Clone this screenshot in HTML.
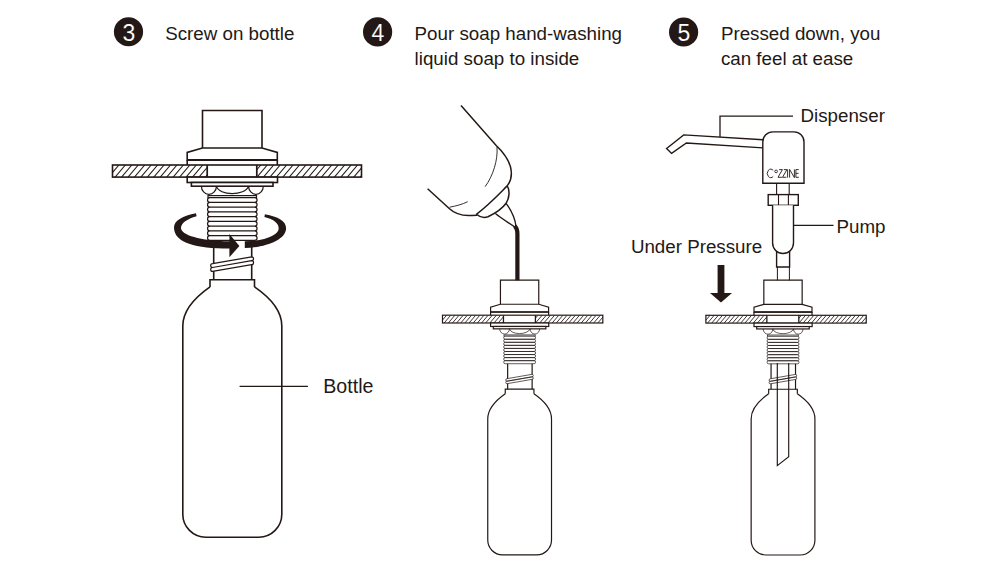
<!DOCTYPE html><html><head><meta charset="utf-8"><style>html,body{margin:0;padding:0;background:#fff;width:1000px;height:569px;overflow:hidden;position:relative}</style></head><body><svg width="1000" height="569" viewBox="0 0 1000 569" style="position:absolute;left:0;top:0">
<rect width="1000" height="569" fill="#fff"/>
<clipPath id="c3"><path d="M112.5,165H207.2V177.1H112.5Z M256.8,165H361.5V177.1H256.8Z"/></clipPath>
<path clip-path="url(#c3)" d="M102.22,177.10l10.28,-12.10M108.67,177.10l10.28,-12.10M115.12,177.10l10.28,-12.10M121.57,177.10l10.28,-12.10M128.02,177.10l10.28,-12.10M134.47,177.10l10.28,-12.10M140.91,177.10l10.28,-12.10M147.36,177.10l10.28,-12.10M153.81,177.10l10.28,-12.10M160.26,177.10l10.28,-12.10M166.71,177.10l10.28,-12.10M173.16,177.10l10.28,-12.10M179.61,177.10l10.28,-12.10M186.06,177.10l10.28,-12.10M192.51,177.10l10.28,-12.10M198.96,177.10l10.28,-12.10M205.41,177.10l10.28,-12.10M211.86,177.10l10.28,-12.10M218.31,177.10l10.28,-12.10M224.76,177.10l10.28,-12.10M231.21,177.10l10.28,-12.10M237.66,177.10l10.28,-12.10M244.11,177.10l10.28,-12.10M250.56,177.10l10.28,-12.10M257.01,177.10l10.28,-12.10M263.46,177.10l10.28,-12.10M269.91,177.10l10.28,-12.10M276.36,177.10l10.28,-12.10M282.81,177.10l10.28,-12.10M289.26,177.10l10.28,-12.10M295.71,177.10l10.28,-12.10M302.16,177.10l10.28,-12.10M308.61,177.10l10.28,-12.10M315.06,177.10l10.28,-12.10M321.51,177.10l10.28,-12.10M327.96,177.10l10.28,-12.10M334.41,177.10l10.28,-12.10M340.86,177.10l10.28,-12.10M347.31,177.10l10.28,-12.10M353.76,177.10l10.28,-12.10M360.21,177.10l10.28,-12.10" stroke="#231815" stroke-width="1.05" fill="none"/>
<rect x="112.5" y="165" width="249" height="12.1" fill="none" stroke="#231815" stroke-width="1.6"/>
<path d="M207.2,165V177.1M256.8,165V177.1" stroke="#231815" stroke-width="1.71" fill="none"/>
<path d="M202.5,148V110.5H262V148" fill="none" stroke="#231815" stroke-width="1.6"/>
<path d="M202.5,148L187.2,152.4V160H277.3V152.4L262,148Z" fill="#fff" stroke="#231815" stroke-width="1.6" stroke-linejoin="miter"/>
<path d="M187.2,160V165M277.3,160V165" fill="none" stroke="#231815" stroke-width="1.6"/>
<path d="M187.2,160H277.3" stroke="#231815" stroke-width="2.03"/>
<rect x="187.2" y="177.1" width="90.3" height="5.4" fill="#fff" stroke="#231815" stroke-width="1.6"/>
<rect x="191.4" y="182.5" width="81.6" height="3.7" fill="#fff" stroke="#231815" stroke-width="1.6"/>
<path d="M201.4,186.2A7.5,8.1 0 0 0 216.4,186.2 M216.4,186.2C219,196 245,196 248.6,186.2 M248.6,186.2A7.35,8.1 0 0 0 263.3,186.2" fill="none" stroke="#231815" stroke-width="1.2"/>
<rect x="208" y="195.6" width="48.5" height="2" fill="#fff" stroke="#231815" stroke-width="1.2"/>
<path d="M209.9,197.60H254.7A2.37,2.37 0 0 1 254.7,202.35H209.9A2.37,2.37 0 0 1 209.9,197.60ZM209.9,202.35H254.7A2.37,2.37 0 0 1 254.7,207.10H209.9A2.37,2.37 0 0 1 209.9,202.35ZM209.9,207.10H254.7A2.37,2.37 0 0 1 254.7,211.85H209.9A2.37,2.37 0 0 1 209.9,207.10ZM209.9,211.85H254.7A2.37,2.37 0 0 1 254.7,216.60H209.9A2.37,2.37 0 0 1 209.9,211.85ZM209.9,216.60H254.7A2.37,2.37 0 0 1 254.7,221.35H209.9A2.37,2.37 0 0 1 209.9,216.60ZM209.9,221.35H254.7A2.37,2.37 0 0 1 254.7,226.10H209.9A2.37,2.37 0 0 1 209.9,221.35ZM209.9,226.10H254.7A2.37,2.37 0 0 1 254.7,230.85H209.9A2.37,2.37 0 0 1 209.9,226.10ZM209.9,230.85H254.7A2.37,2.37 0 0 1 254.7,235.60H209.9A2.37,2.37 0 0 1 209.9,230.85ZM209.9,235.60H254.7A2.37,2.37 0 0 1 254.7,240.35H209.9A2.37,2.37 0 0 1 209.9,235.60Z" fill="#fff" stroke="#231815" stroke-width="1.2"/>
<path d="M213.7,240.3V279.8M251.7,240.3V279.8" fill="none" stroke="#231815" stroke-width="1.6"/>
<path d="M212.60,263.60L251.60,256.80A1.95,1.95 0 0 1 251.60,260.70L212.60,267.50A1.95,1.95 0 0 1 212.60,263.60ZM212.60,267.50L251.60,260.70A1.95,1.95 0 0 1 251.60,264.60L212.60,271.40A1.95,1.95 0 0 1 212.60,267.50Z" fill="#fff" stroke="#231815" stroke-width="1.2"/>
<path d="M210,286.9V279.8H254.5V286.9" fill="none" stroke="#231815" stroke-width="1.6"/>
<path d="M210,286.9C197,296 182.8,309 182.8,326V514A23,23 0 0 0 205.8,537.2H258.8A23,23 0 0 0 281.8,514V326C281.8,309 267.8,296 254.5,286.9" fill="none" stroke="#231815" stroke-width="1.6"/>
<path d="M196,213.2C183,216 174,220 174,227.5C174,243 196,248.5 229.4,248.5V257.2L239.4,245.9L229.4,234V241.3C200,240.8 181,235 181,228C181,223 187,219 196.6,216.2ZM244.8,248C265,247.5 286.1,240 286.1,228.2C286.1,221 278,216.5 264.9,214.2L264.4,217.1C274,219.5 278.7,223.5 278.7,228.5C278.7,235 265,241 244.8,241.3Z" fill="#231815"/>
<path d="M239.6,386.3H307.9" stroke="#231815" stroke-width="1.3"/>
<g transform="translate(519.6 280.1) scale(0.644) translate(-232.25 -110.5)"><clipPath id="c4"><path d="M112.5,165H207.2V177.1H112.5Z M256.8,165H361.5V177.1H256.8Z"/></clipPath>
<path clip-path="url(#c4)" d="M102.22,177.10l10.28,-12.10M108.67,177.10l10.28,-12.10M115.12,177.10l10.28,-12.10M121.57,177.10l10.28,-12.10M128.02,177.10l10.28,-12.10M134.47,177.10l10.28,-12.10M140.91,177.10l10.28,-12.10M147.36,177.10l10.28,-12.10M153.81,177.10l10.28,-12.10M160.26,177.10l10.28,-12.10M166.71,177.10l10.28,-12.10M173.16,177.10l10.28,-12.10M179.61,177.10l10.28,-12.10M186.06,177.10l10.28,-12.10M192.51,177.10l10.28,-12.10M198.96,177.10l10.28,-12.10M205.41,177.10l10.28,-12.10M211.86,177.10l10.28,-12.10M218.31,177.10l10.28,-12.10M224.76,177.10l10.28,-12.10M231.21,177.10l10.28,-12.10M237.66,177.10l10.28,-12.10M244.11,177.10l10.28,-12.10M250.56,177.10l10.28,-12.10M257.01,177.10l10.28,-12.10M263.46,177.10l10.28,-12.10M269.91,177.10l10.28,-12.10M276.36,177.10l10.28,-12.10M282.81,177.10l10.28,-12.10M289.26,177.10l10.28,-12.10M295.71,177.10l10.28,-12.10M302.16,177.10l10.28,-12.10M308.61,177.10l10.28,-12.10M315.06,177.10l10.28,-12.10M321.51,177.10l10.28,-12.10M327.96,177.10l10.28,-12.10M334.41,177.10l10.28,-12.10M340.86,177.10l10.28,-12.10M347.31,177.10l10.28,-12.10M353.76,177.10l10.28,-12.10M360.21,177.10l10.28,-12.10" stroke="#231815" stroke-width="1.35" fill="none"/>
<rect x="112.5" y="165" width="249" height="12.1" fill="none" stroke="#231815" stroke-width="1.85"/>
<path d="M207.2,165V177.1M256.8,165V177.1" stroke="#231815" stroke-width="1.98" fill="none"/>
<path d="M202.5,148V110.5H262V148" fill="none" stroke="#231815" stroke-width="1.85"/>
<path d="M202.5,148L187.2,152.4V160H277.3V152.4L262,148Z" fill="#fff" stroke="#231815" stroke-width="1.85" stroke-linejoin="miter"/>
<path d="M187.2,160V165M277.3,160V165" fill="none" stroke="#231815" stroke-width="1.85"/>
<path d="M187.2,160H277.3" stroke="#231815" stroke-width="2.35"/>
<rect x="187.2" y="177.1" width="90.3" height="5.4" fill="#fff" stroke="#231815" stroke-width="1.85"/>
<rect x="191.4" y="182.5" width="81.6" height="3.7" fill="#fff" stroke="#231815" stroke-width="1.85"/>
<path d="M201.4,186.2A7.5,8.1 0 0 0 216.4,186.2 M216.4,186.2C219,196 245,196 248.6,186.2 M248.6,186.2A7.35,8.1 0 0 0 263.3,186.2" fill="none" stroke="#231815" stroke-width="1.1"/>
<rect x="208" y="195.6" width="48.5" height="2" fill="#fff" stroke="#231815" stroke-width="1.1"/>
<path d="M209.9,197.60H254.7A2.37,2.37 0 0 1 254.7,202.35H209.9A2.37,2.37 0 0 1 209.9,197.60ZM209.9,202.35H254.7A2.37,2.37 0 0 1 254.7,207.10H209.9A2.37,2.37 0 0 1 209.9,202.35ZM209.9,207.10H254.7A2.37,2.37 0 0 1 254.7,211.85H209.9A2.37,2.37 0 0 1 209.9,207.10ZM209.9,211.85H254.7A2.37,2.37 0 0 1 254.7,216.60H209.9A2.37,2.37 0 0 1 209.9,211.85ZM209.9,216.60H254.7A2.37,2.37 0 0 1 254.7,221.35H209.9A2.37,2.37 0 0 1 209.9,216.60ZM209.9,221.35H254.7A2.37,2.37 0 0 1 254.7,226.10H209.9A2.37,2.37 0 0 1 209.9,221.35ZM209.9,226.10H254.7A2.37,2.37 0 0 1 254.7,230.85H209.9A2.37,2.37 0 0 1 209.9,226.10ZM209.9,230.85H254.7A2.37,2.37 0 0 1 254.7,235.60H209.9A2.37,2.37 0 0 1 209.9,230.85ZM209.9,235.60H254.7A2.37,2.37 0 0 1 254.7,240.35H209.9A2.37,2.37 0 0 1 209.9,235.60Z" fill="#fff" stroke="#231815" stroke-width="1.1"/>
<path d="M213.7,240.3V279.8M251.7,240.3V279.8" fill="none" stroke="#231815" stroke-width="1.85"/>
<path d="M212.60,263.60L251.60,256.80A1.95,1.95 0 0 1 251.60,260.70L212.60,267.50A1.95,1.95 0 0 1 212.60,263.60ZM212.60,267.50L251.60,260.70A1.95,1.95 0 0 1 251.60,264.60L212.60,271.40A1.95,1.95 0 0 1 212.60,267.50Z" fill="#fff" stroke="#231815" stroke-width="1.1"/>
<path d="M210,286.9V279.8H254.5V286.9" fill="none" stroke="#231815" stroke-width="1.85"/>
<path d="M210,286.9C197,296 182.8,309 182.8,326V514A23,23 0 0 0 205.8,537.2H258.8A23,23 0 0 0 281.8,514V326C281.8,309 267.8,296 254.5,286.9" fill="none" stroke="#231815" stroke-width="1.85"/></g>
<path d="M461,105.5L496.2,145.5C502,151 508,158 510.5,167C512.5,175 511,181 507.2,185.9" fill="none" stroke="#231815" stroke-width="1.5"/>
<path d="M427.6,188.7L449.5,208.8C454,213 460,215.5 468.5,215.6C472,215.6 475,215.3 477.2,215.1" fill="none" stroke="#231815" stroke-width="1.5"/>
<path d="M507.2,185.9C500,193 490,204 476.4,214.3" fill="none" stroke="#231815" stroke-width="1.5"/>
<path d="M507.2,185.9C510,190 509.5,198 506.1,203.3C502,209 496,213 488,216.8C484,218 480,217.5 476.4,214.3" fill="none" stroke="#231815" stroke-width="1.5"/>
<path d="M506.1,203.3C511,210 515,218 516,226.4M495.4,213.6C502,219 509,223 514.6,227" fill="none" stroke="#231815" stroke-width="1.3"/>
<path d="M497,147.1C498,160 493,176 485.1,186.7M449.5,207.2C456,206 462,204.5 467.7,201.7" fill="none" stroke="#231815" stroke-width="0.9"/>
<path d="M514.5,226C517.2,228 517.4,230 517.4,234V280.3" fill="none" stroke="#231815" stroke-width="4.2"/>
<g transform="translate(783 280.2) scale(0.644) translate(-232.25 -110.5)"><clipPath id="c5"><path d="M112.5,165H207.2V177.1H112.5Z M256.8,165H361.5V177.1H256.8Z"/></clipPath>
<path clip-path="url(#c5)" d="M102.22,177.10l10.28,-12.10M108.67,177.10l10.28,-12.10M115.12,177.10l10.28,-12.10M121.57,177.10l10.28,-12.10M128.02,177.10l10.28,-12.10M134.47,177.10l10.28,-12.10M140.91,177.10l10.28,-12.10M147.36,177.10l10.28,-12.10M153.81,177.10l10.28,-12.10M160.26,177.10l10.28,-12.10M166.71,177.10l10.28,-12.10M173.16,177.10l10.28,-12.10M179.61,177.10l10.28,-12.10M186.06,177.10l10.28,-12.10M192.51,177.10l10.28,-12.10M198.96,177.10l10.28,-12.10M205.41,177.10l10.28,-12.10M211.86,177.10l10.28,-12.10M218.31,177.10l10.28,-12.10M224.76,177.10l10.28,-12.10M231.21,177.10l10.28,-12.10M237.66,177.10l10.28,-12.10M244.11,177.10l10.28,-12.10M250.56,177.10l10.28,-12.10M257.01,177.10l10.28,-12.10M263.46,177.10l10.28,-12.10M269.91,177.10l10.28,-12.10M276.36,177.10l10.28,-12.10M282.81,177.10l10.28,-12.10M289.26,177.10l10.28,-12.10M295.71,177.10l10.28,-12.10M302.16,177.10l10.28,-12.10M308.61,177.10l10.28,-12.10M315.06,177.10l10.28,-12.10M321.51,177.10l10.28,-12.10M327.96,177.10l10.28,-12.10M334.41,177.10l10.28,-12.10M340.86,177.10l10.28,-12.10M347.31,177.10l10.28,-12.10M353.76,177.10l10.28,-12.10M360.21,177.10l10.28,-12.10" stroke="#231815" stroke-width="1.35" fill="none"/>
<rect x="112.5" y="165" width="249" height="12.1" fill="none" stroke="#231815" stroke-width="1.85"/>
<path d="M207.2,165V177.1M256.8,165V177.1" stroke="#231815" stroke-width="1.98" fill="none"/>
<path d="M202.5,148V110.5H262V148" fill="none" stroke="#231815" stroke-width="1.85"/>
<path d="M202.5,148L187.2,152.4V160H277.3V152.4L262,148Z" fill="#fff" stroke="#231815" stroke-width="1.85" stroke-linejoin="miter"/>
<path d="M187.2,160V165M277.3,160V165" fill="none" stroke="#231815" stroke-width="1.85"/>
<path d="M187.2,160H277.3" stroke="#231815" stroke-width="2.35"/>
<rect x="187.2" y="177.1" width="90.3" height="5.4" fill="#fff" stroke="#231815" stroke-width="1.85"/>
<rect x="191.4" y="182.5" width="81.6" height="3.7" fill="#fff" stroke="#231815" stroke-width="1.85"/>
<path d="M201.4,186.2A7.5,8.1 0 0 0 216.4,186.2 M216.4,186.2C219,196 245,196 248.6,186.2 M248.6,186.2A7.35,8.1 0 0 0 263.3,186.2" fill="none" stroke="#231815" stroke-width="1.1"/>
<rect x="208" y="195.6" width="48.5" height="2" fill="#fff" stroke="#231815" stroke-width="1.1"/>
<path d="M209.9,197.60H254.7A2.37,2.37 0 0 1 254.7,202.35H209.9A2.37,2.37 0 0 1 209.9,197.60ZM209.9,202.35H254.7A2.37,2.37 0 0 1 254.7,207.10H209.9A2.37,2.37 0 0 1 209.9,202.35ZM209.9,207.10H254.7A2.37,2.37 0 0 1 254.7,211.85H209.9A2.37,2.37 0 0 1 209.9,207.10ZM209.9,211.85H254.7A2.37,2.37 0 0 1 254.7,216.60H209.9A2.37,2.37 0 0 1 209.9,211.85ZM209.9,216.60H254.7A2.37,2.37 0 0 1 254.7,221.35H209.9A2.37,2.37 0 0 1 209.9,216.60ZM209.9,221.35H254.7A2.37,2.37 0 0 1 254.7,226.10H209.9A2.37,2.37 0 0 1 209.9,221.35ZM209.9,226.10H254.7A2.37,2.37 0 0 1 254.7,230.85H209.9A2.37,2.37 0 0 1 209.9,226.10ZM209.9,230.85H254.7A2.37,2.37 0 0 1 254.7,235.60H209.9A2.37,2.37 0 0 1 209.9,230.85ZM209.9,235.60H254.7A2.37,2.37 0 0 1 254.7,240.35H209.9A2.37,2.37 0 0 1 209.9,235.60Z" fill="#fff" stroke="#231815" stroke-width="1.1"/>
<path d="M213.7,240.3V279.8M251.7,240.3V279.8" fill="none" stroke="#231815" stroke-width="1.85"/>
<path d="M212.60,263.60L251.60,256.80A1.95,1.95 0 0 1 251.60,260.70L212.60,267.50A1.95,1.95 0 0 1 212.60,263.60ZM212.60,267.50L251.60,260.70A1.95,1.95 0 0 1 251.60,264.60L212.60,271.40A1.95,1.95 0 0 1 212.60,267.50Z" fill="#fff" stroke="#231815" stroke-width="1.1"/>
<path d="M210,286.9V279.8H254.5V286.9" fill="none" stroke="#231815" stroke-width="1.85"/>
<path d="M210,286.9C197,296 182.8,309 182.8,326V514A23,23 0 0 0 205.8,537.2H258.8A23,23 0 0 0 281.8,514V326C281.8,309 267.8,296 254.5,286.9" fill="none" stroke="#231815" stroke-width="1.85"/></g>
<path d="M777.3,363V465.6L788.7,456.8V363" fill="none" stroke="#231815" stroke-width="1.15"/>
<path d="M720,137.1V116.2H793" fill="none" stroke="#231815" stroke-width="1.3"/>
<path d="M763,139.7L683.7,134.9L666.6,148.5L671.6,153.4L686.4,143L763,147.9" fill="#fff" stroke="#231815" stroke-width="1.4" stroke-linejoin="miter"/>
<path d="M762.8,183.3V142A10,10 0 0 1 772.8,131.9H794A10,10 0 0 1 804,142V183.3Z" fill="#fff" stroke="#231815" stroke-width="1.4"/>
<path d="M776.6,183.3V194.6M789.2,183.3V194.6" stroke="#231815" stroke-width="1.1" fill="none"/>
<rect x="768.2" y="194.6" width="30.1" height="10.7" fill="#fff" stroke="#231815" stroke-width="1.4"/>
<path d="M778.5,194.6V205.3M788.4,194.6V205.3" stroke="#231815" stroke-width="1.1"/>
<path d="M772.6,205.3V243A10.45,10.45 0 0 0 793.5,243V205.3" fill="#fff" stroke="#231815" stroke-width="1.4"/>
<path d="M776.6,251V267H789.6V251" fill="none" stroke="#231815" stroke-width="1.4"/>
<path d="M777.4,267V280.3M789.4,267V280.3" stroke="#231815" stroke-width="1" fill="none"/>
<path d="M793.5,225.4H833.5" stroke="#231815" stroke-width="1.3"/>
<path d="M773.2,170.4A3.4,4.3 0 1 0 773.2,176.4M779.2,169.6H782.4L778,177.3H781.9M783.8,169.6H786.9L782.5,177.3H786.4M787.6,169.4V177.6M789.6,177.6V169.4L794.4,177.6V169.4M798.7,169.6H795.9V177.3H798.9M795.9,173.4H798.5" fill="none" stroke="#231815" stroke-width="0.9"/><circle cx="776.1" cy="171.4" r="1.35" fill="none" stroke="#231815" stroke-width="0.85"/>
<path d="M717.6,265H724.4V293H732L721,302.4L710,293H717.6Z" fill="#231815"/>
<circle cx="128.5" cy="31.75" r="14.6" fill="#231815"/><text x="128.9" y="40.6" text-anchor="middle" font-family="Liberation Sans" font-size="23" fill="#fff" stroke="#231815" stroke-width="0.12">3</text>
<circle cx="377.6" cy="31.9" r="14.6" fill="#231815"/><text x="378.0" y="40.75" text-anchor="middle" font-family="Liberation Sans" font-size="23" fill="#fff" stroke="#231815" stroke-width="0.12">4</text>
<circle cx="683.6" cy="32.0" r="14.6" fill="#231815"/><text x="684.0" y="40.85" text-anchor="middle" font-family="Liberation Sans" font-size="23" fill="#fff" stroke="#231815" stroke-width="0.12">5</text>
<text x="165.2" y="40" font-family="Liberation Sans" font-size="18.75" fill="#231815">Screw on bottle</text>
<text x="414.6" y="40" font-family="Liberation Sans" font-size="18.75" fill="#231815">Pour soap hand-washing</text>
<text x="414.6" y="64.7" font-family="Liberation Sans" font-size="18.75" fill="#231815">liquid soap to inside</text>
<text x="720.9" y="40" font-family="Liberation Sans" font-size="18.75" fill="#231815">Pressed down, you</text>
<text x="720.9" y="64.8" font-family="Liberation Sans" font-size="18.75" fill="#231815">can feel at ease</text>
<text x="800.5" y="122.2" font-family="Liberation Sans" font-size="18.75" fill="#231815">Dispenser</text>
<text x="836.5" y="233.0" font-family="Liberation Sans" font-size="18.75" fill="#231815">Pump</text>
<text x="323.3" y="393.2" font-family="Liberation Sans" font-size="19.6" fill="#231815">Bottle</text>
<text x="630.9" y="253.0" font-family="Liberation Sans" font-size="18.75" fill="#231815">Under Pressure</text>
</svg></body></html>
